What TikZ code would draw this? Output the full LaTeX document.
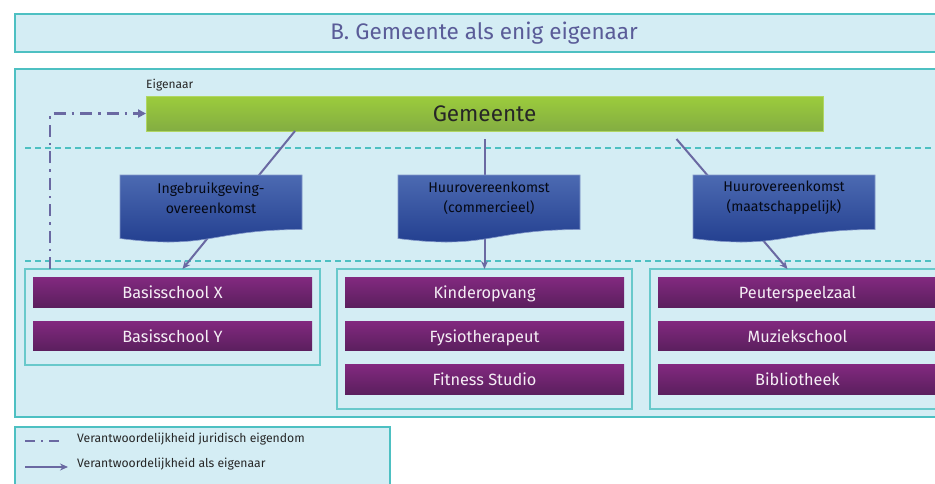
\documentclass[tikz,border=0pt]{standalone}
\usepackage{fontspec}
\setmainfont{Fira Sans}
\usetikzlibrary{arrows.meta,positioning}
\definecolor{mPanel}{HTML}{D4EDF4}
\definecolor{mTeal}{HTML}{4DC0C2}
\definecolor{mLine}{HTML}{6A69A2}
\definecolor{mTitle}{HTML}{5A5C98}
\definecolor{mGreenT}{HTML}{9CCC3C}
\definecolor{mGreenB}{HTML}{83AD42}
\definecolor{mBlueT}{HTML}{4C6AB2}
\definecolor{mBlueB}{HTML}{1F3B8C}
\definecolor{mPurpT}{HTML}{82297F}
\definecolor{mPurpB}{HTML}{5B1F5E}

\begin{document}
\begin{tikzpicture}[x=1pt, y=-1pt,
     panel/.style={draw=mTeal, fill=mPanel, line width=2pt, inner sep=0pt, outer sep=0pt,
                   anchor=north west, minimum width=938pt},
     group/.style={draw=mTeal!85, fill=mPanel, line width=1.2pt, inner sep=0pt, outer sep=0pt,
                   anchor=north west, minimum width=295pt},
     bar/.style={top color=mPurpT, bottom color=mPurpB, minimum width=279pt, minimum height=29.5pt,
                 inner sep=0pt, outer sep=0pt, text height=14.5pt, text depth=2pt,
                 text=white!92!mPurpT, font=\fontsize{16.3}{19}\selectfont},
     owner/.style={top color=mGreenT, bottom color=mGreenB, draw=mGreenT!80!white, line width=0.6pt,
                   anchor=north west, minimum width=677pt, minimum height=35pt, inner sep=0pt,
                   outer sep=0pt, text=black!85, font=\fontsize{22.5}{26}\selectfont},
     contract/.style={align=center, inner sep=0pt, text=black!85!mBlueB, font=\fontsize{14.1}{20}\selectfont},
     docshade/.style={top color=mBlueT, bottom color=mBlueB, draw=mBlueT!70!white, line width=0.6pt},
     guide/.style={draw=mTeal, line width=1.2pt, dash pattern=on 6pt off 4pt},
     own/.style={draw=mLine, line width=2pt, -{Stealth[length=8pt, width=7pt]}},
     juri/.style={draw=mLine, line width=2.5pt, dash pattern=on 12pt off 6pt on 2.5pt off 6pt,
                  -{Triangle[length=8pt, width=8pt]}},
     lgd/.style={anchor=west, inner sep=0pt, text=black!85, font=\fontsize{12.2}{14}\selectfont}]
  \path[use as bounding box, fill=white] (0,0) rectangle (935,483);

  % title and panels
  \node[panel, minimum height=38pt] (title) at (15,14) {};
  \node[text=mTitle, font=\fontsize{22.5}{26}\selectfont] (titletext) at (title.center) {B. Gemeente als enig eigenaar};
  \node[panel, minimum height=348pt] (main) at (15,69) {};
  \node[panel, minimum width=375pt, minimum height=70pt] (legend) at (15,427) {};
  \draw[guide] (25,148) -- (945,148);
  \draw[guide] (25,261) -- (945,261);

  % owner
  \node[owner] (gem) at (146,96) {Gemeente};
  \node[lgd, anchor=south west, font=\fontsize{12}{14}\selectfont] (ownerlbl) at ([yshift=5pt]gem.north west) {Eigenaar};

  % users
  \node[group, minimum height=96pt] (g1) at (25,269) {};
  \node[group, minimum height=140pt] (g2) at (337,269) {};
  \node[group, minimum height=140pt] (g3) at (650,269) {};
  \node[bar, below=8.5pt of g1.north] (bsx) {Basisschool X};
  \node[bar, below=14pt of bsx] (bsy) {Basisschool Y};
  \node[bar, below=8.5pt of g2.north] (kinder) {Kinderopvang};
  \node[bar, below=14pt of kinder] (fysio) {Fysiotherapeut};
  \node[bar, below=14pt of fysio] (fitness) {Fitness Studio};
  \node[bar, below=8.5pt of g3.north] (peuter) {Peuterspeelzaal};
  \node[bar, below=14pt of peuter] (muziek) {Muziekschool};
  \node[bar, below=14pt of muziek] (biblio) {Bibliotheek};

  % responsibilities
  \draw[own] ([xshift=149pt]gem.south west) -- ([xshift=10pt]g1.north);
  \draw[own, shorten <=8pt] (g2.north |- gem.south) -- (g2.north);
  \draw[own] ([shift={(192pt,-8pt)}]gem.south) -- ([xshift=-10pt]g3.north);
  \draw[juri] ([xshift=25pt]g1.north west) |- (gem.west);

  % contracts
  \foreach \x in {120,398,693}
    \shade[docshade] (\x,175) -- (\x+182,175) -- (\x+182,229.5)
      .. controls (\x+91,229.5) and (\x+91,250) .. (\x,238.5) -- cycle;
  \node[contract] (c1) at (211,198) {Ingebruikgeving-\\overeenkomst};
  \node[contract] (c2) at (489,198) {Huurovereenkomst\\(commercieel)};
  \node[contract] (c3) at (784,198) {Huurovereenkomst\\(maatschappelijk)};

  % legend
  \node[lgd] (lt1) at (77,439) {Verantwoordelijkheid juridisch eigendom};
  \node[lgd] (lt2) at (77,464) {Verantwoordelijkheid als eigenaar};
  \draw[juri, -, dash pattern=on 10pt off 6pt on 2pt off 6pt] ([shift={(-52pt,-2pt)}]lt1.west) -- ([shift={(-14pt,-2pt)}]lt1.west);
  \draw[own] ([shift={(-52pt,-3pt)}]lt2.west) -- ([shift={(-9pt,-3pt)}]lt2.west);
\end{tikzpicture}
\end{document}
